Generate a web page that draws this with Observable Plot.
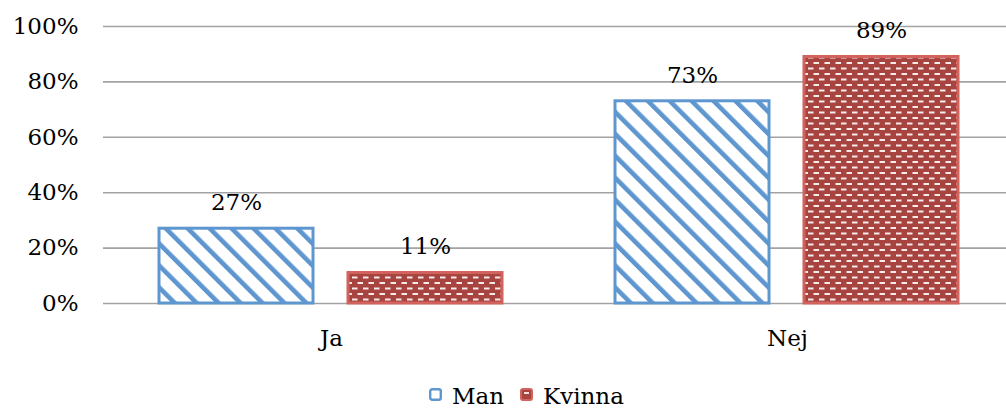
<!DOCTYPE html>
<html>
<head>
<meta charset="utf-8">
<script src="https://cdn.jsdelivr.net/npm/d3@7"></script>
<script src="https://cdn.jsdelivr.net/npm/@observablehq/plot@0.6"></script>
<style>
  html, body { margin: 0; padding: 0; background: #fff; overflow: hidden; }
  body { position: relative; width: 1006px; height: 409px; font-family: "DejaVu Serif", serif; }
  #chart text { font-family: "DejaVu Serif", serif !important; }
  .leg { position: absolute; font-size: 23px; line-height: 28px; color: #000; white-space: nowrap; }
</style>
</head>
<body>
<svg width="0" height="0" style="position:absolute">
  <defs>
    <pattern id="pMan" patternUnits="userSpaceOnUse" width="15.5" height="15.5" patternTransform="rotate(-45)">
      <rect x="0" y="0" width="15.5" height="15.5" fill="#ffffff"></rect>
      <rect x="0" y="0" width="4.6" height="15.5" fill="#5e96cf"></rect>
    </pattern>
    <pattern id="pKv" patternUnits="userSpaceOnUse" width="11" height="11">
      <rect x="0" y="0" width="11" height="11" fill="#a8443f"></rect>
      <rect x="0" y="1.5" width="5.5" height="2" fill="#f6eaea"></rect>
      <rect x="5.5" y="7" width="5.5" height="2" fill="#f6eaea"></rect>
    </pattern>
  </defs>
</svg>
<div id="chart"></div>
<script>
const categories = ["Ja", "Nej"];
const seriesNames = ["Man", "Kvinna"];
const manValues = [0.27, 0.73];
const kvinnaValues = [0.11, 0.89];
const yTicks = [0, 0.2, 0.4, 0.6, 0.8, 1.0];
const yTickLabels = ["0%", "20%", "40%", "60%", "80%", "100%"];

const data = [];
categories.forEach((c, i) => {
  data.push({cat: c, series: "Man", value: manValues[i]});
  data.push({cat: c, series: "Kvinna", value: kvinnaValues[i]});
});
const fmt = d3.format(".0%");
const FS = 23;

const chart = Plot.plot({
  width: 1015,
  height: 375,
  marginTop: 26,
  marginBottom: 72,
  marginLeft: 103,
  marginRight: 0,
  style: "font-family: 'DejaVu Serif', serif; font-size: 23px; color: #000; background: #fff; max-width: none;",
  fx: {domain: categories, padding: 0, label: null},
  x: {domain: seriesNames, paddingInner: 0.185, paddingOuter: 0.296, axis: null},
  y: {domain: [0, 1]},
  marks: [
    Plot.ruleY(yTicks, {stroke: "#a3a3a3", strokeWidth: 1.6}),
    Plot.axisY({ticks: yTicks, tickFormat: (d) => yTickLabels[yTicks.indexOf(d)], tickSize: 0, tickPadding: 25, label: null, fontSize: FS}),
    Plot.axisFx({anchor: "bottom", tickSize: 0, tickPadding: 26, label: null, fontSize: FS}),
    Plot.barY(data.filter(d => d.series === "Man"), {fx: "cat", x: "series", y: "value", fill: "url(#pMan)", stroke: "#5e96cf", strokeWidth: 3}),
    Plot.barY(data.filter(d => d.series === "Kvinna"), {fx: "cat", x: "series", y: "value", fill: "url(#pKv)", stroke: "#d2625d", strokeWidth: 3}),
    Plot.text(data, {fx: "cat", x: "series", y: "value", text: d => fmt(d.value), lineAnchor: "middle", dy: -26, fontSize: FS, fill: "#000"})
  ]
});
document.getElementById("chart").appendChild(chart);
</script>
<svg style="position:absolute; left:429px; top:388px" width="13" height="13">
  <rect x="1.2" y="1.2" width="10.6" height="10.6" rx="2" fill="#ffffff" stroke="#5e96cf" stroke-width="2.4"></rect>
</svg>
<div class="leg" style="left:452px; top:382px">Man</div>
<svg style="position:absolute; left:520px; top:388px" width="13" height="13">
  <rect x="1" y="1" width="11" height="11" rx="2" fill="#a8443f" stroke="#d2625d" stroke-width="2"></rect>
  <rect x="4" y="4" width="5" height="2" fill="#f3dede"></rect>
</svg>
<div class="leg" style="left:543px; top:382px">Kvinna</div>
</body>
</html>
